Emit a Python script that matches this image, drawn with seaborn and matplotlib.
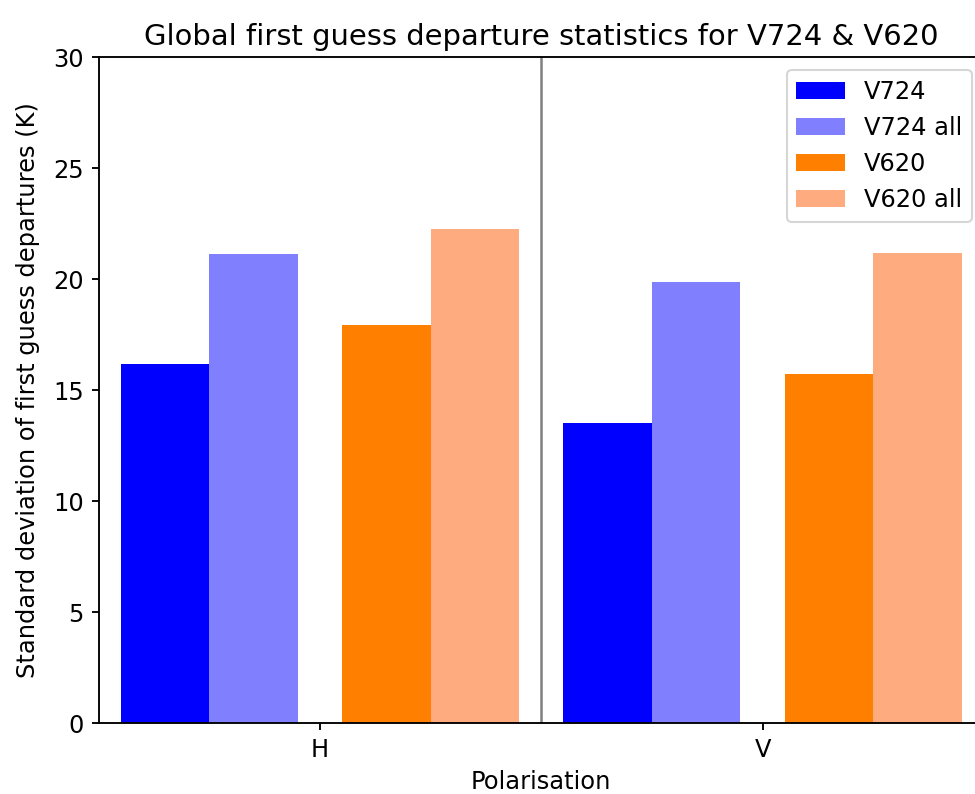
import matplotlib
matplotlib.use("Agg")
import matplotlib.pyplot as plt
import numpy as np
import pandas as pd
import seaborn as sns

# Data: standard deviation of first guess departures (K)
polarisations = ["H", "V"]
series = ["V724", "V724 all", "V620", "V620 all"]
v724 = [16.2, 13.54]
v724_all = [21.13, 19.86]
v620 = [17.93, 15.72]
v620_all = [22.28, 21.2]

colors = ["#0000ff", "#8080ff", "#ff8000", "#ffab80"]
offsets = [-0.35, -0.15, 0.15, 0.35]

plt.rcParams["font.size"] = 11.6
plt.rcParams["axes.titlesize"] = 13.9
plt.rcParams["axes.labelsize"] = 11.6
plt.rcParams["xtick.labelsize"] = 11.6
plt.rcParams["ytick.labelsize"] = 11.6
plt.rcParams["legend.fontsize"] = 11.6
plt.rcParams["axes.linewidth"] = 0.9
plt.rcParams["xtick.major.width"] = 0.9
plt.rcParams["ytick.major.width"] = 0.9

rows = []
for s, vals, off in zip(series, [v724, v724_all, v620, v620_all], offsets):
    for i, v in enumerate(vals):
        rows.append({"pos": i + off, "series": s, "value": v})
df = pd.DataFrame(rows)

fig = plt.figure(figsize=(6.5, 794 / 150), dpi=150)
ax = fig.add_axes([98.5 / 975, 1 - 723.3 / 794, (984 - 98.5) / 975, (723.3 - 57.3) / 794])

sns.barplot(data=df, x="pos", y="value", hue="series", hue_order=series,
            palette=colors, native_scale=True, dodge=False, width=1.0,
            saturation=1, ax=ax, legend=True)

ax.axvline(0.5, color="gray", linewidth=1.2)
ax.set_xlim(-0.5, 1.5)
ax.set_ylim(0, 30)
ax.set_xticks([0, 1])
ax.set_xticklabels(polarisations)
ax.set_xlabel("Polarisation", labelpad=4)
ax.set_ylabel("Standard deviation of first guess departures (K)", labelpad=6.5)
ax.set_title("Global first guess departure statistics for V724 & V620")

ax.legend(title=None, loc="upper right", bbox_to_anchor=(972 / 975, 1 - 70 / 794),
          bbox_transform=fig.transFigure, borderaxespad=0)

fig.savefig("out.png", dpi=150)
